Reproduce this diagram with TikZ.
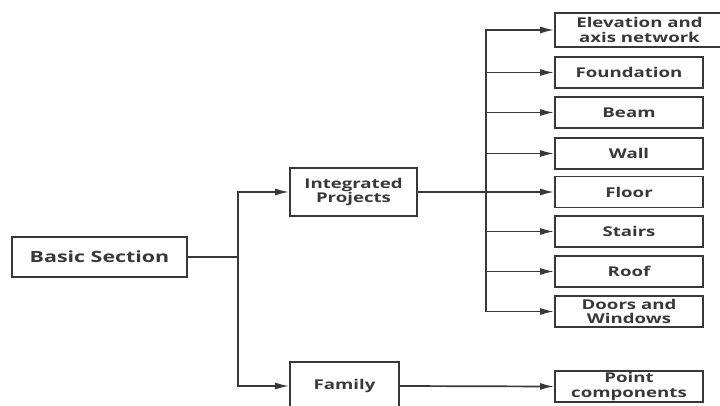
\documentclass[tikz,border=0pt]{standalone}
\usepackage{fontspec}
\setmainfont{Open Sans}[FakeStretch=1.38]
\usetikzlibrary{arrows.meta}
\definecolor{ink}{HTML}{383838}
\begin{document}
\begin{tikzpicture}[x=1pt,y=-1pt,
  box/.style={draw=ink,line width=1.8pt,text=ink,font=\bfseries\fontsize{13.5}{14.2}\selectfont,align=center,inner sep=0pt,minimum width=148pt,minimum height=31pt},
  line/.style={draw=ink,line width=1.7pt},
  arr/.style={line,-{Latex[length=14pt,width=7pt]}}]
\useasboundingbox (0,0) rectangle (720,406);
\clip (0,0) rectangle (720,406);
\node[box,minimum width=175pt,minimum height=40pt,font=\bfseries\fontsize{15.5}{16}\selectfont] (bs) at (99.5,257) {Basic Section};
\node[box,minimum width=127pt,minimum height=48pt] (ip) at (353.5,192) {Integrated\\Projects};
\node[box,minimum width=109pt,minimum height=48pt] (fam) at (344.5,386) {Family};
\node[box,minimum width=169pt,minimum height=34pt] (el) at (639.5,30) {Elevation and\\axis network};
\node[box] (fo) at (629,72.5) {Foundation};
\node[box] (be) at (629,112.5) {Beam};
\node[box] (wa) at (629,153.5) {Wall};
\node[box] (fl) at (629,192) {Floor};
\node[box] (st) at (629,231.5) {Stairs};
\node[box] (ro) at (629,271.5) {Roof};
\node[box] (dw) at (629,311.5) {Doors and\\Windows};
\node[box] (pc) at (629,386.5) {Point\\components};
\coordinate (j1) at (238,257);
\coordinate (j2) at (486,192);
\draw[line] (bs.east) -- (j1);
\draw[arr] (j1) |- (ip.west);
\draw[arr] (j1) |- (fam.west);
\draw[line] (ip.east) -- (j2);
\foreach \t in {el,fo,be,wa,fl,st,ro,dw} \draw[arr] (j2) |- (\t.west);
\draw[arr] (fam.east) -- (pc.west);
\end{tikzpicture}
\end{document}
